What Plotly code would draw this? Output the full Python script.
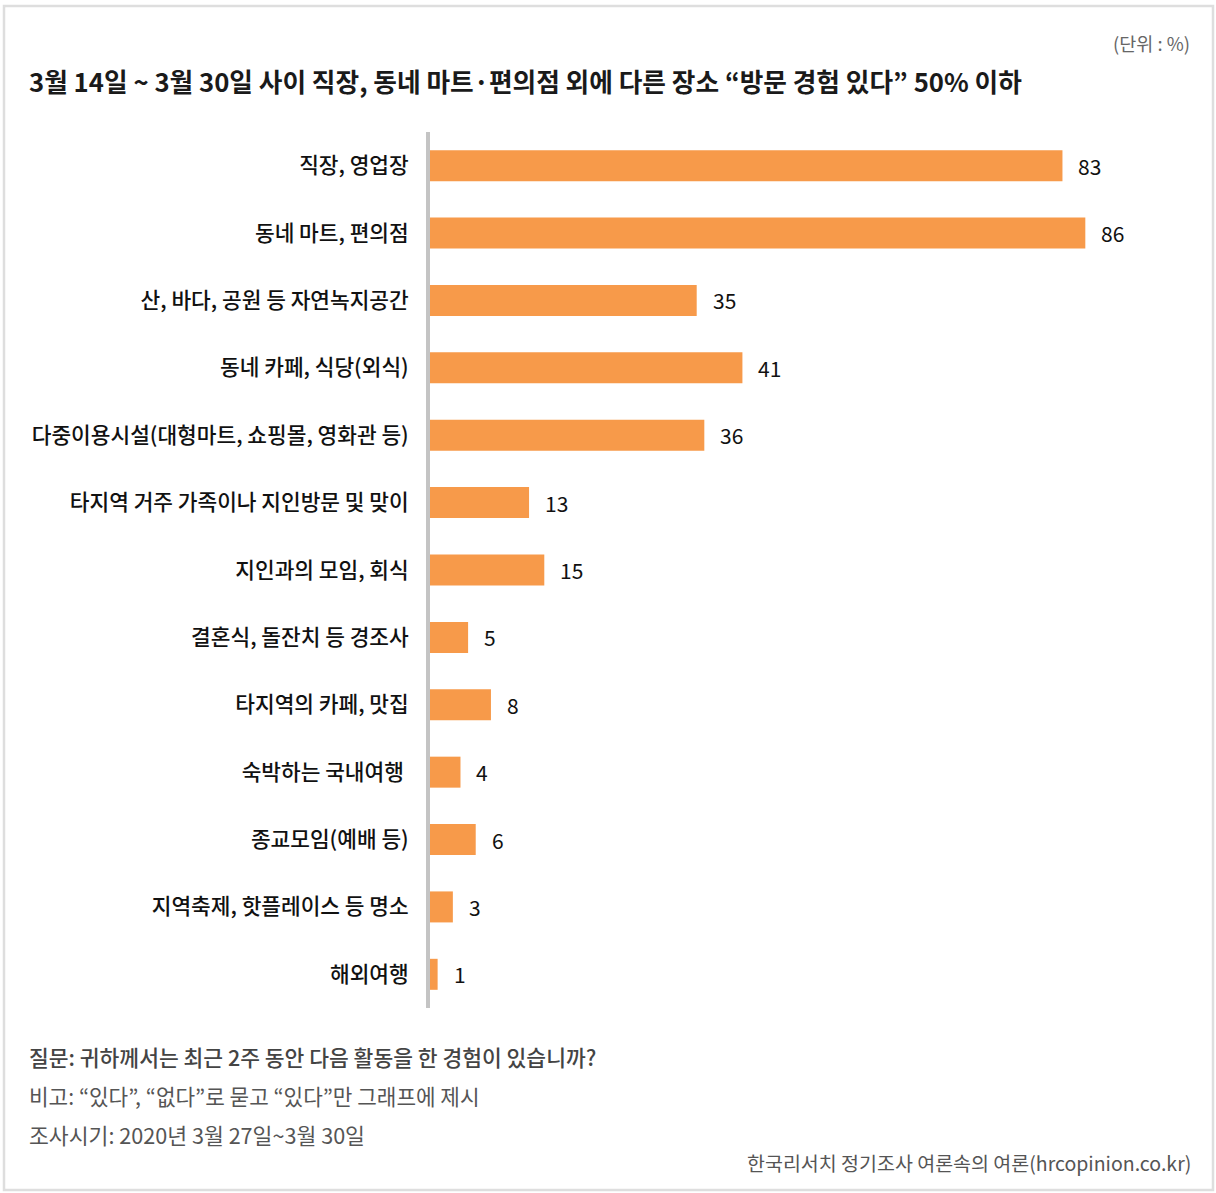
import plotly.graph_objects as go

categories = [
    "직장, 영업장",
    "동네 마트, 편의점",
    "산, 바다, 공원 등 자연녹지공간",
    "동네 카페, 식당(외식)",
    "다중이용시설(대형마트, 쇼핑몰, 영화관 등)",
    "타지역 거주 가족이나 지인방문 및 맞이",
    "지인과의 모임, 회식",
    "결혼식, 돌잔치 등 경조사",
    "타지역의 카페, 맛집",
    "숙박하는 국내여행 ",
    "종교모임(예배 등)",
    "지역축제, 핫플레이스 등 명소",
    "해외여행",
]
values = [83, 86, 35, 41, 36, 13, 15, 5, 8, 4, 6, 3, 1]

title_text = "3월 14일 ~ 3월 30일 사이 직장, 동네 마트·편의점 외에 다른 장소 “방문 경험 있다” 50% 이하"
unit_text = "(단위 : %)"
question_text = "질문: 귀하께서는 최근 2주 동안 다음 활동을 한 경험이 있습니까?"
note_text = "비고: “있다”, “없다”로 묻고 “있다”만 그래프에 제시"
period_text = "조사시기: 2020년 3월 27일~3월 30일"
source_text = "한국리서치 정기조사 여론속의 여론(hrcopinion.co.kr)"

W, H = 1216, 1193
L, R, T, B = 430, 1192, 132, 1008
FONT = "Noto Sans CJK KR"


def px(x):
    return (x - L) / (R - L)


def py(y):
    return (B - y) / (B - T)


fig = go.Figure()
fig.add_trace(go.Bar(
    x=values,
    y=categories,
    orientation="h",
    marker=dict(color="#F79A4A", line=dict(width=0)),
    width=0.46,
    hoverinfo="skip",
))

for c, v in zip(categories, values):
    fig.add_annotation(
        x=v, y=c, xref="x", yref="y", text=str(v), showarrow=False,
        xanchor="left", yanchor="middle", xshift=14,
        font=dict(family=FONT, size=21, color="#111111"),
    )

# frame
fig.add_shape(type="rect", xref="paper", yref="paper",
              x0=px(4), x1=px(1213), y0=py(1190), y1=py(6),
              line=dict(color="#dedede", width=2.5), fillcolor="rgba(0,0,0,0)", layer="below")

fig.add_annotation(text=title_text, x=px(27), y=py(80), xref="paper", yref="paper",
                   xanchor="left", yanchor="middle", showarrow=False,
                   font=dict(family=FONT, size=25.7, color="#1a1a1a", weight=700))
fig.add_annotation(text=unit_text, x=px(1192), y=py(43), xref="paper", yref="paper",
                   xanchor="right", yanchor="middle", showarrow=False,
                   font=dict(family=FONT, size=18.5, color="#666666"))
fig.add_annotation(text=question_text, x=px(27), y=py(1056), xref="paper", yref="paper",
                   xanchor="left", yanchor="middle", showarrow=False,
                   font=dict(family=FONT, size=21.5, color="#444444", weight=500))
fig.add_annotation(text=note_text, x=px(27), y=py(1095), xref="paper", yref="paper",
                   xanchor="left", yanchor="middle", showarrow=False,
                   font=dict(family=FONT, size=21.3, color="#555555"))
fig.add_annotation(text=period_text, x=px(27), y=py(1134), xref="paper", yref="paper",
                   xanchor="left", yanchor="middle", showarrow=False,
                   font=dict(family=FONT, size=21.6, color="#555555"))
fig.add_annotation(text=source_text, x=px(1193), y=py(1162), xref="paper", yref="paper",
                   xanchor="right", yanchor="middle", showarrow=False,
                   font=dict(family=FONT, size=19.5, color="#555555"))

fig.update_layout(
    width=W, height=H,
    margin=dict(l=L, r=W - R, t=T, b=H - B),
    paper_bgcolor="white", plot_bgcolor="white",
    showlegend=False,
    xaxis=dict(range=[0, 100], visible=False, fixedrange=True),
    yaxis=dict(
        categoryorder="array", categoryarray=categories, autorange="reversed",
        showline=True, linecolor="#c4c4c4", linewidth=4,
        ticks="", showgrid=False, zeroline=False,
        ticklabelstandoff=13,
        tickfont=dict(family=FONT, size=21.4, color="#111111", weight=500),
    ),
)

fig.write_html("out.html")
